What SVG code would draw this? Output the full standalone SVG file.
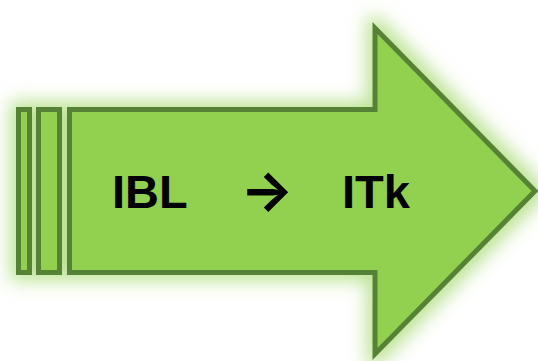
<svg xmlns="http://www.w3.org/2000/svg" width="538" height="361" viewBox="0 0 538 361">
<defs>
<filter id="glow" x="-20%" y="-30%" width="140%" height="160%">
<feMorphology in="SourceAlpha" operator="dilate" radius="6" result="d"/>
<feGaussianBlur in="d" stdDeviation="9" result="b"/>
<feFlood flood-color="#92D050" flood-opacity="0.6"/>
<feComposite in2="b" operator="in" result="g"/>
<feMerge><feMergeNode in="g"/><feMergeNode in="SourceGraphic"/></feMerge>
</filter>
<style>
.s{fill:#92D050;stroke:#548235;stroke-width:5;stroke-linejoin:miter}
.t{font-family:"Liberation Sans",Arial,sans-serif;font-weight:bold;font-size:47px;fill:#000}
.a{font-family:Inter,"DejaVu Sans",sans-serif;font-weight:bold;font-size:56px;fill:#000}
</style>
</defs>
<g id="arrow" filter="url(#glow)">
<rect class="s" x="18.5" y="109.5" width="11" height="163"/>
<rect class="s" x="38.5" y="109.5" width="21" height="163"/>
<path class="s" d="M69.5,109.5 H375 V28 L535,191 L375,354 V272.5 H69.5 Z"/>
</g>
<g id="label">
<text class="t" x="112" y="208">IBL</text>
<text class="a" x="267" y="210" text-anchor="middle">→</text>
<text class="t" x="342" y="208">ITk</text>
</g>
</svg>
